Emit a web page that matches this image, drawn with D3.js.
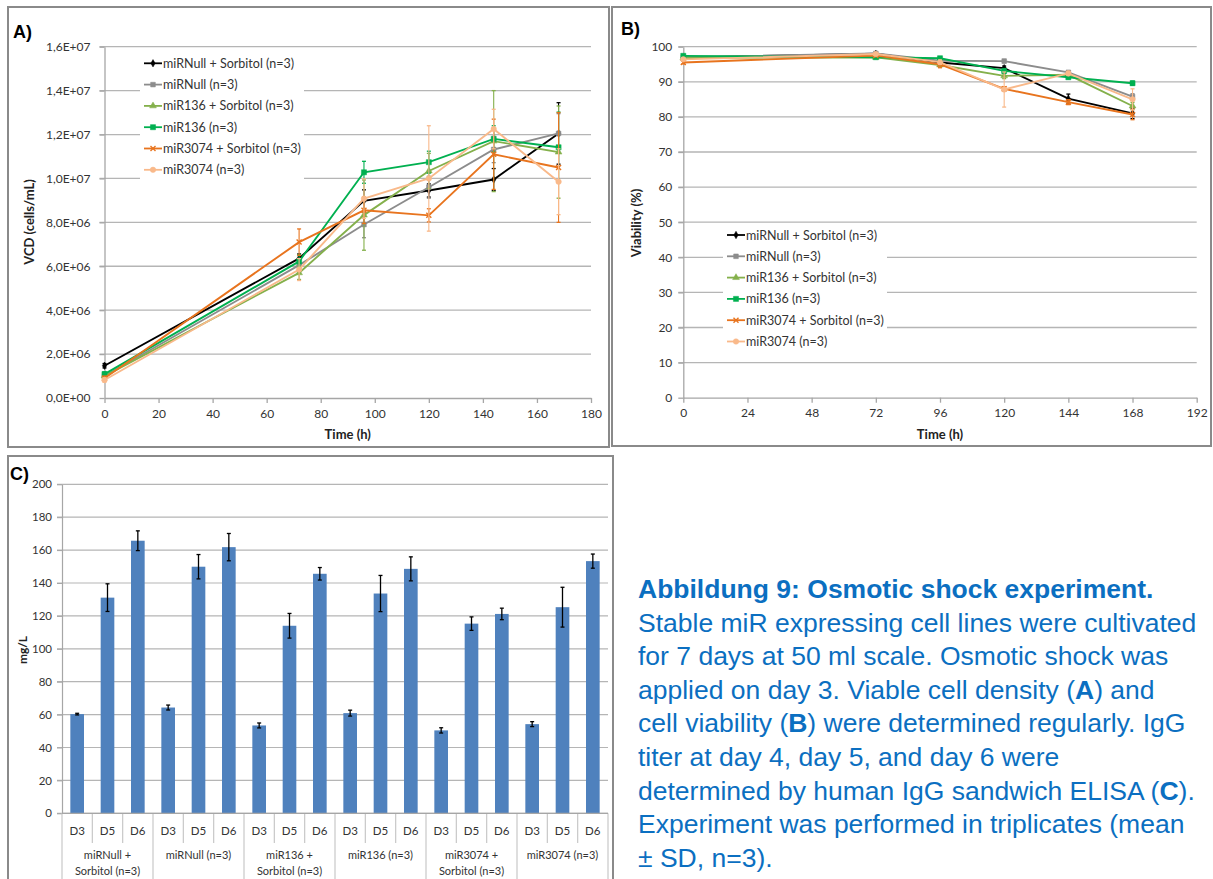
<!DOCTYPE html>
<html><head><meta charset="utf-8">
<script src="https://cdn.jsdelivr.net/npm/d3@7"></script>
<style>body{margin:0;background:#fff} svg{display:block}</style>
</head><body>
<svg id="c" width="1213" height="879"></svg>
<script>
// ---------- DATA ----------
const seriesNames = ["miRNull + Sorbitol (n=3)","miRNull (n=3)","miR136 + Sorbitol (n=3)","miR136 (n=3)","miR3074 + Sorbitol (n=3)","miR3074 (n=3)"];
const seriesColors = ["#000000","#8c8c8c","#84b04b","#00b050","#e8741e","#f9b98a"];

// Panel A: viable cell density (cells/mL)
const timeA = [0,72,96,120,144,168];
const vcdNullSorb   = [1.47e6, 6.36e6, 8.98e6, 9.45e6, 9.95e6, 1.205e7];
const vcdNull       = [1.00e6, 6.05e6, 7.90e6, 9.60e6, 1.132e7, 1.205e7];
const vcd136Sorb    = [1.00e6, 5.70e6, 8.33e6, 1.034e7, 1.17e7, 1.12e7];
const vcd136        = [1.09e6, 6.22e6, 1.028e7, 1.074e7, 1.18e7, 1.142e7];
const vcd3074Sorb   = [0.90e6, 7.10e6, 8.55e6, 8.32e6, 1.11e7, 1.05e7];
const vcd3074       = [0.82e6, 5.85e6, 9.08e6, 1.00e7, 1.225e7, 9.85e6];
const vcdSdNullSorb = [0.1e6, 0.2e6, 0.5e6, 0.3e6, 0.5e6, 1.4e6];
const vcdSdNull     = [0.1e6, 0.3e6, 0.6e6, 0.5e6, 0.6e6, 0.9e6];
const vcdSd136Sorb  = [0.1e6, 0.3e6, 1.6e6, 0.8e6, 2.3e6, 2.1e6];
const vcdSd136      = [0.1e6, 0.3e6, 0.5e6, 0.5e6, 0.6e6, 1.6e6];
const vcdSd3074Sorb = [0.1e6, 0.6e6, 0.6e6, 0.3e6, 1.6e6, 2.5e6];
const vcdSd3074     = [0.1e6, 0.5e6, 0.9e6, 2.4e6, 0.9e6, 1.5e6];
const vcdTicks = [0,2e6,4e6,6e6,8e6,1e7,1.2e7,1.4e7,1.6e7];
const timeTicksA = [0,20,40,60,80,100,120,140,160,180];

// Panel B: viability (%)
const timeB = [0,72,96,120,144,168];
const viaNullSorb   = [96.9, 98.0, 95.5, 93.9, 85.2, 81.0];
const viaNull       = [97.0, 98.1, 96.0, 95.9, 92.7, 85.8];
const via136Sorb    = [96.8, 97.0, 94.8, 91.7, 92.0, 83.1];
const via136        = [97.4, 97.0, 96.7, 93.1, 91.3, 89.6];
const via3074Sorb   = [95.5, 97.5, 95.0, 88.0, 84.2, 80.7];
const via3074       = [96.4, 97.9, 95.6, 87.8, 92.4, 85.0];
const viaSdNullSorb = [0.3, 0.3, 0.5, 0.6, 1.3, 1.5];
const viaSdNull     = [0.3, 0.3, 0.4, 0.5, 0.5, 0.8];
const viaSd136Sorb  = [0.3, 0.3, 0.6, 0.8, 0.5, 1.0];
const viaSd136      = [0.4, 0.3, 0.5, 0.6, 0.5, 0.6];
const viaSd3074Sorb = [0.4, 0.3, 1.0, 0.6, 0.7, 1.5];
const viaSd3074     = [0.4, 0.3, 0.6, 5.0, 0.6, 3.0];
const viaTicks = [0,10,20,30,40,50,60,70,80,90,100];
const timeTicksB = [0,24,48,72,96,120,144,168,192];

// Panel C: IgG titer (mg/L)
const days = ["D3","D5","D6"];
const groupLabels = [["miRNull +","Sorbitol (n=3)"],["miRNull (n=3)"],["miR136 +","Sorbitol (n=3)"],["miR136 (n=3)"],["miR3074 +","Sorbitol (n=3)"],["miR3074 (n=3)"]];
const titer   = [60.3,131.1,165.7, 64.3,149.9,161.8, 53.4,114.0,145.6, 60.9,133.6,148.6, 50.4,115.3,121.2, 54.2,125.3,153.3];
const titerSd = [0.5,8.4,6.0, 1.5,7.4,8.3, 1.5,7.5,3.8, 1.8,11.0,7.3, 1.6,4.1,3.5, 1.5,12.1,4.3];
const titerTicks = [0,20,40,60,80,100,120,140,160,180,200];

const captionTitle = "Abbildung 9: Osmotic shock experiment.";
const captionLines = [
  [["Stable miR expressing cell lines were cultivated",0]],
  [["for 7 days at 50 ml scale. Osmotic shock was",0]],
  [["applied on day 3. Viable cell density (",0],["A",1],[") and",0]],
  [["cell viability (",0],["B",1],[") were determined regularly. IgG",0]],
  [["titer at day 4, day 5, and day 6 were",0]],
  [["determined by human IgG sandwich ELISA (",0],["C",1],[").",0]],
  [["Experiment was performed in triplicates (mean",0]],
  [["± SD, n=3).",0]]
];

// ---------- DRAWING ----------
const svg = d3.select("#c");
const FONT = "Lato, 'Open Sans', sans-serif";
const GRID = "#b5b5b5";
const TXT = "#333333";
const symbols = [d3.symbolDiamond, d3.symbolSquare, d3.symbolTriangle, d3.symbolSquare, d3.symbolX, d3.symbolCircle];
const symSizes = [16, 22, 20, 26, 18, 24];

// frames
svg.append("rect").attr("x",8).attr("y",7).attr("width",601).attr("height",440).attr("fill","none").attr("stroke","#8a8a8a").attr("stroke-width",2);
svg.append("rect").attr("x",612).attr("y",7).attr("width",599).attr("height",439).attr("fill","none").attr("stroke","#8a8a8a").attr("stroke-width",2);
svg.append("rect").attr("x",8).attr("y",456).attr("width",605).attr("height",440).attr("fill","none").attr("stroke","#8a8a8a").attr("stroke-width",2);

function sciFmt(v){
  if (v===0) return "0,0E+00";
  const s = d3.format(".1e")(v);
  const [m,e] = s.split("e");
  const sign = e[0]; const ex = e.slice(1).padStart(2,"0");
  return m.replace(".",",")+"E"+sign+ex;
}

function linePanel(cfg){
  const g = svg.append("g");
  const x = d3.scaleLinear().domain(cfg.xDomain).range(cfg.xRange);
  const y = d3.scaleLinear().domain(cfg.yDomain).range(cfg.yRange);
  g.selectAll(".grid").data(cfg.yTicks.slice(1)).join("line")
    .attr("x1",cfg.xRange[0]-5).attr("x2",cfg.xRange[1])
    .attr("y1",d=>y(d)).attr("y2",d=>y(d)).attr("stroke",GRID).attr("stroke-width",1.3);
  const ax = g.append("g").attr("transform",`translate(0,${cfg.yRange[0]})`)
    .call(d3.axisBottom(x).tickValues(cfg.xTicks).tickSize(5).tickSizeOuter(0).tickPadding(6));
  const ay = g.append("g").attr("transform",`translate(${cfg.xRange[0]},0)`)
    .call(d3.axisLeft(y).tickValues(cfg.yTicks).tickFormat(cfg.yFmt).tickSize(5).tickSizeOuter(0).tickPadding(cfg.yPad));
  [ax,ay].forEach(a=>{
    a.select(".domain").attr("stroke","#a6a6a6").attr("stroke-width",1.3);
    a.selectAll(".tick line").attr("stroke","#a6a6a6").attr("stroke-width",1.3);
    a.selectAll("text").attr("font-family",FONT).attr("font-size",cfg.tickFont).attr("fill",TXT);
  });
  g.append("text").attr("x",(cfg.xRange[0]+cfg.xRange[1])/2).attr("y",cfg.yRange[0]+41)
    .attr("text-anchor","middle").attr("font-family",FONT).attr("font-weight","bold").attr("font-size",13).attr("fill","#222").text("Time (h)");
  g.append("text").attr("transform",`translate(${cfg.yTitleX},${cfg.yTitleY}) rotate(-90)`)
    .attr("text-anchor","middle").attr("font-family",FONT).attr("font-weight","bold").attr("font-size",13).attr("fill","#222").text(cfg.yTitle);
  const line = d3.line().x(d=>x(d[0])).y(d=>y(d[1]));
  cfg.series.forEach((s,i)=>{
    const pts = cfg.time.map((t,j)=>[t,s.v[j],s.sd[j]]);
    const sg = g.append("g");
    pts.forEach(p=>{
      const cx = x(p[0]), y1=y(p[1]-p[2]), y2=y(p[1]+p[2]);
      sg.append("line").attr("x1",cx).attr("x2",cx).attr("y1",y1).attr("y2",y2).attr("stroke",seriesColors[i]).attr("stroke-width",1.1);
      [y1,y2].forEach(yy=>sg.append("line").attr("x1",cx-2).attr("x2",cx+2).attr("y1",yy).attr("y2",yy).attr("stroke",seriesColors[i]).attr("stroke-width",1.3));
    });
    sg.append("path").attr("d",line(pts)).attr("fill","none").attr("stroke",seriesColors[i]).attr("stroke-width",1.9);
    sg.selectAll("path.m").data(pts).join("path").attr("class","m")
      .attr("transform",p=>`translate(${x(p[0])},${y(p[1])})`)
      .attr("d",d3.symbol().type(symbols[i]).size(symSizes[i]))
      .attr("fill",seriesColors[i]).attr("stroke",seriesColors[i]).attr("stroke-width",i===4?1.4:0.5);
  });
  const L = cfg.legend;
  g.append("rect").attr("x",L.x).attr("y",L.y).attr("width",L.w).attr("height",L.h).attr("fill","#fff");
  seriesNames.forEach((n,i)=>{
    const yy = L.y0 + i*L.dy;
    g.append("line").attr("x1",L.lx).attr("x2",L.lx+18).attr("y1",yy).attr("y2",yy).attr("stroke",seriesColors[i]).attr("stroke-width",1.8);
    g.append("path").attr("transform",`translate(${L.lx+9},${yy})`).attr("d",d3.symbol().type(symbols[i]).size(symSizes[i]))
      .attr("fill",seriesColors[i]).attr("stroke",seriesColors[i]).attr("stroke-width",i===4?1.4:0.5);
    g.append("text").attr("x",L.lx+19).attr("y",yy+4.5).attr("font-family",FONT).attr("font-size",12.5).attr("fill",TXT).text(n);
  });
}

linePanel({
  xDomain:[0,180], xRange:[104.5,591], yDomain:[0,1.6e7], yRange:[398,46.7],
  xTicks:timeTicksA, yTicks:vcdTicks, yFmt:sciFmt, tickFont:12, yPad:9,
  time:timeA, yTitle:"VCD (cells/mL)", yTitleX:34, yTitleY:222,
  series:[
    {v:vcdNullSorb,sd:vcdSdNullSorb},{v:vcdNull,sd:vcdSdNull},{v:vcd136Sorb,sd:vcdSd136Sorb},
    {v:vcd136,sd:vcdSd136},{v:vcd3074Sorb,sd:vcdSd3074Sorb},{v:vcd3074,sd:vcdSd3074}],
  legend:{x:140,y:52,w:164,h:130,lx:144,y0:63.3,dy:21.3}
});
linePanel({
  xDomain:[0,192], xRange:[683.3,1196.7], yDomain:[0,100], yRange:[397.7,46.7],
  xTicks:timeTicksB, yTicks:viaTicks, yFmt:d3.format("d"), tickFont:12, yPad:6,
  time:timeB, yTitle:"Viability (%)", yTitleX:641, yTitleY:223,
  series:[
    {v:viaNullSorb,sd:viaSdNullSorb},{v:viaNull,sd:viaSdNull},{v:via136Sorb,sd:viaSd136Sorb},
    {v:via136,sd:viaSd136},{v:via3074Sorb,sd:viaSd3074Sorb},{v:via3074,sd:viaSd3074}],
  legend:{x:723,y:224,w:164,h:130,lx:727,y0:235,dy:21.3}
});

// Panel labels
svg.append("text").attr("x",13).attr("y",38).attr("font-family","Arial, 'Liberation Sans', sans-serif").attr("font-weight","bold").attr("font-size",18).text("A)");
svg.append("text").attr("x",621).attr("y",35).attr("font-family","Arial, 'Liberation Sans', sans-serif").attr("font-weight","bold").attr("font-size",18).text("B)");
svg.append("text").attr("x",10).attr("y",480).attr("font-family","Arial, 'Liberation Sans', sans-serif").attr("font-weight","bold").attr("font-size",18).text("C)");

// ---------- Panel C ----------
(function(){
  const g = svg.append("g");
  const cats = d3.range(titer.length);
  const x = d3.scaleBand().domain(cats).range([62,608]).paddingInner(0.55).paddingOuter(0.275);
  const xb = d3.scaleBand().domain(cats).range([62,608]);
  const y = d3.scaleLinear().domain([0,200]).range([813.3,484.3]);
  g.selectAll(".grid").data(titerTicks).join("line")
    .attr("x1",57).attr("x2",608).attr("y1",d=>y(d)).attr("y2",d=>y(d)).attr("stroke",GRID).attr("stroke-width",1.2);
  const ay = g.append("g").attr("transform","translate(62,0)")
    .call(d3.axisLeft(y).tickValues(titerTicks).tickSize(5).tickSizeOuter(0).tickPadding(5));
  ay.select(".domain").attr("stroke","#a6a6a6").attr("stroke-width",1.2);
  ay.selectAll(".tick line").attr("stroke","#a6a6a6");
  ay.selectAll("text").attr("font-family",FONT).attr("font-size",11.5).attr("fill",TXT);
  g.append("text").attr("transform","translate(27,650) rotate(-90)").attr("text-anchor","middle")
    .attr("font-family",FONT).attr("font-weight","bold").attr("font-size",12).attr("fill","#222").text("mg/L");
  g.selectAll("rect.bar").data(cats).join("rect").attr("class","bar")
    .attr("x",i=>x(i)).attr("width",x.bandwidth()).attr("y",i=>y(titer[i])).attr("height",i=>y(0)-y(titer[i])).attr("fill","#4f81bd");
  cats.forEach(i=>{
    const cx = x(i)+x.bandwidth()/2, y1=y(titer[i]-titerSd[i]), y2=y(titer[i]+titerSd[i]);
    g.append("line").attr("x1",cx).attr("x2",cx).attr("y1",y1).attr("y2",y2).attr("stroke","#000").attr("stroke-width",1.3);
    [y1,y2].forEach(yy=>g.append("line").attr("x1",cx-2).attr("x2",cx+2).attr("y1",yy).attr("y2",yy).attr("stroke","#000").attr("stroke-width",1.3));
  });
  cats.forEach(i=>{
    const left = xb(i);
    const isGroup = i%3===0;
    g.append("line").attr("x1",left).attr("x2",left).attr("y1",813.3).attr("y2",isGroup?880:843).attr("stroke","#c8c8c8").attr("stroke-width",1.2);
    g.append("text").attr("x",left+xb.bandwidth()/2).attr("y",834.5).attr("text-anchor","middle")
      .attr("font-family",FONT).attr("font-size",11.5).attr("fill",TXT).text(days[i%3]);
  });
  g.append("line").attr("x1",608).attr("x2",608).attr("y1",813.3).attr("y2",880).attr("stroke","#c8c8c8").attr("stroke-width",1.2);
  g.append("line").attr("x1",62).attr("x2",608).attr("y1",813.3).attr("y2",813.3).attr("stroke","#a6a6a6").attr("stroke-width",1.2);
  groupLabels.forEach((lab,k)=>{
    const cx = xb(k*3)+xb.bandwidth()*1.5;
    lab.forEach((t,j)=>g.append("text").attr("x",cx).attr("y",859+j*15.5).attr("text-anchor","middle")
      .attr("font-family",FONT).attr("font-size",11).attr("fill",TXT).text(t));
  });
})();

// ---------- Caption ----------
(function(){
  const g = svg.append("g").attr("font-family","Arial, 'Liberation Sans', sans-serif").attr("font-size",26.5).attr("fill","#0b6fc1");
  g.append("text").attr("x",638).attr("y",598).attr("font-weight","bold").text(captionTitle);
  captionLines.forEach((parts,i)=>{
    const t = g.append("text").attr("x",638).attr("y",598+(i+1)*33.6);
    parts.forEach(p=>t.append("tspan").attr("font-weight",p[1]?"bold":"normal").text(p[0]));
  });
})();
</script>
</body></html>
